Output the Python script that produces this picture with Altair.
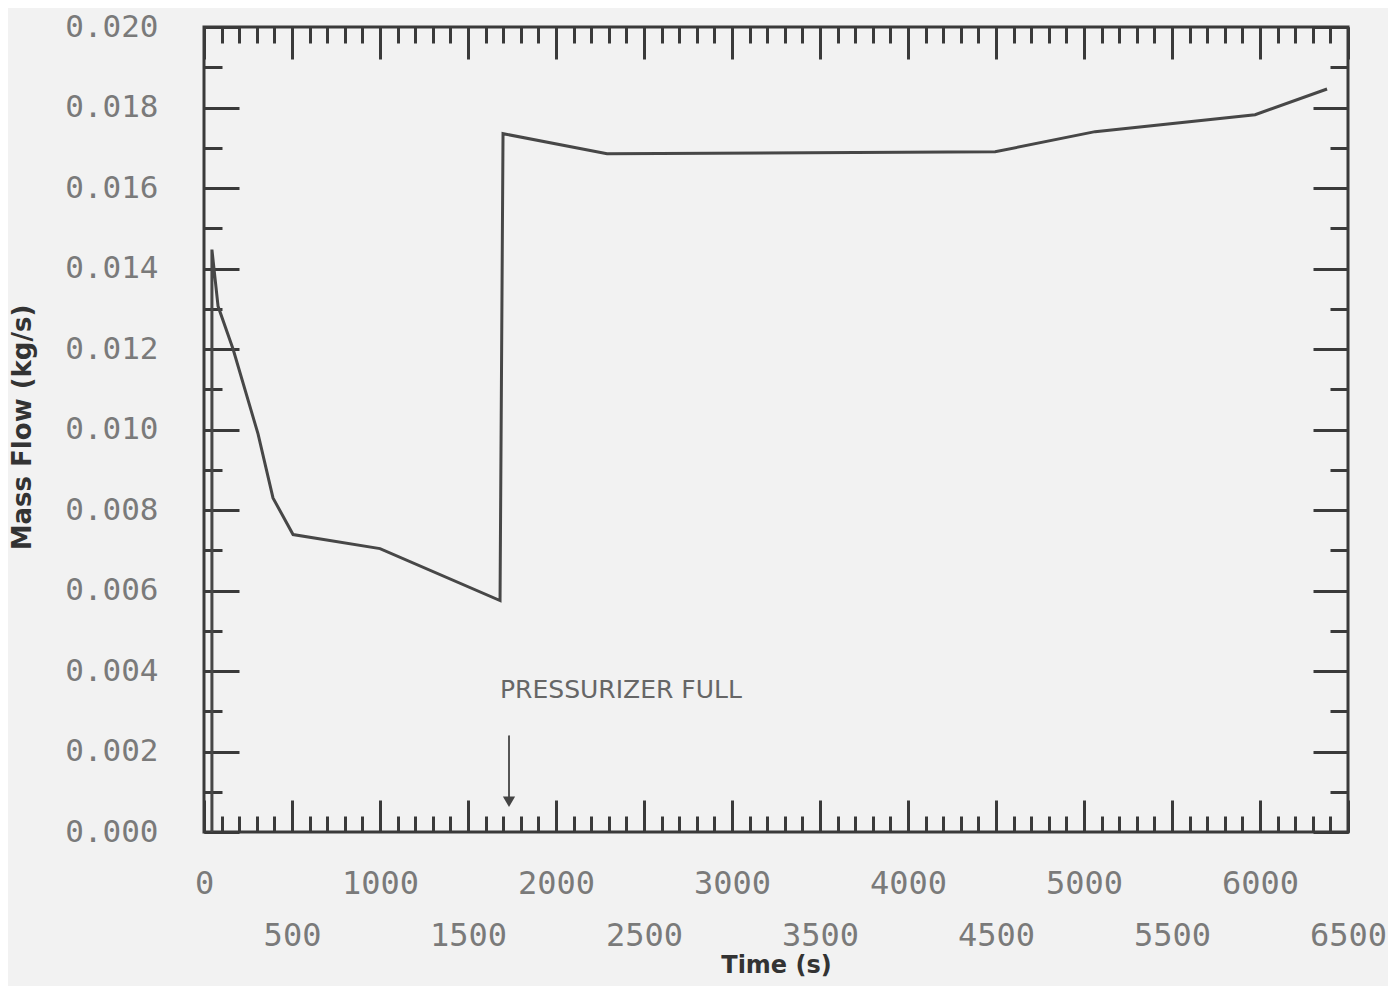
import altair as alt
import pandas as pd

# ---- data ----
time_s = [45, 45, 80, 165, 307, 392, 506, 1000, 1682, 1699, 2290, 4495, 5063, 5972, 6381]
mass_flow = [0.0, 0.01447, 0.01306, 0.01200, 0.00989, 0.00830, 0.00739, 0.00704,
             0.00575, 0.01735, 0.01685, 0.01690, 0.01740, 0.01782, 0.01846]

x_major = [0, 500, 1000, 1500, 2000, 2500, 3000, 3500, 4000, 4500, 5000, 5500, 6000, 6500]
x_minor = list(range(0, 6501, 100))
y_major = [0.000, 0.002, 0.004, 0.006, 0.008, 0.010, 0.012, 0.014, 0.016, 0.018, 0.020]
y_minor = [round(0.001 * i, 3) for i in range(21)]

annot_text = ["PRESSURIZER FULL"]
annot_text_t = [1682]
annot_text_v = [0.00352]
arrow_t = [1733]
arrow_top = [0.0024]
arrow_bot = [0.0008]
arrow_head_v = [0.00075]

W, H = 1144, 805
AX = "#3a3a3a"
LAB = "#7a7a7a"

df = pd.DataFrame({"t": time_s, "v": mass_flow, "i": list(range(len(time_s)))})
xs = alt.Scale(domain=[0, 6500], nice=False, zero=False)
ys = alt.Scale(domain=[0, 0.020], nice=False, zero=False)

base = alt.Chart(df)

main = base.mark_line(color="#474747", strokeWidth=3).encode(
    x=alt.X("t:Q", scale=xs, axis=alt.Axis(
        orient="bottom", values=x_major, format="d",
        labelExpr="datum.value % 1000 == 0 ? [datum.label] : [' ', datum.label]",
        labelFont="DejaVu Sans Mono", labelFontSize=32, labelColor=LAB,
        labelBaseline="top", labelLineHeight=52, labelPadding=36,
        labelFlush=False, labelOverlap=False,
        ticks=False, domain=False, grid=False,
        title="Time  (s)", titleFont="DejaVu Sans", titleFontSize=24,
        titleFontWeight="bold", titleColor="#333333",
        titleX=572, titleY=133, titleAlign="center", titleBaseline="middle")),
    y=alt.Y("v:Q", scale=ys, axis=alt.Axis(
        orient="left", values=y_major, format=".3f",
        labelFont="DejaVu Sans Mono", labelFontSize=31, labelColor=LAB,
        labelBaseline="middle", labelPadding=46, labelFlush=False, labelOverlap=False,
        ticks=False, domain=False, grid=False,
        title="Mass  Flow  (kg/s)", titleFont="DejaVu Sans", titleFontSize=26,
        titleFontWeight="bold", titleColor="#333333", titleAngle=270,
        titleX=-182, titleY=400, titleAlign="center", titleBaseline="middle")),
    order="i:Q",
)


def tick_layer(xorient, xvals, xlen, yorient, yvals, ylen):
    return base.mark_line(opacity=0).encode(
        x=alt.X("t:Q", scale=xs, axis=alt.Axis(
            orient=xorient, offset=-H, values=xvals, tickSize=xlen, tickWidth=3,
            tickColor=AX, labels=False, domain=False, grid=False, title=None)),
        y=alt.Y("v:Q", scale=ys, axis=alt.Axis(
            orient=yorient, offset=-W, values=yvals, tickSize=ylen, tickWidth=3,
            tickColor=AX, labels=False, domain=False, grid=False, title=None)),
        order="i:Q",
    )


# inward ticks: bottom & left sides
t_major_bl = tick_layer("top", x_major, 32, "right", y_major, 35)
t_minor_bl = tick_layer("top", x_minor, 16, "right", y_minor, 18)
# inward ticks: top & right sides
t_major_tr = tick_layer("bottom", x_major, 32, "left", y_major, 35)
t_minor_tr = tick_layer("bottom", x_minor, 16, "left", y_minor, 18)

adf = pd.DataFrame({"label": annot_text, "t": annot_text_t, "v": annot_text_v})
text = alt.Chart(adf).mark_text(
    align="left", baseline="middle", font="DejaVu Sans", fontSize=25, color="#666666"
).encode(
    x=alt.X("t:Q", scale=xs, axis=None),
    y=alt.Y("v:Q", scale=ys, axis=None),
    text="label:N",
)

rdf = pd.DataFrame({"t": arrow_t, "top": arrow_top, "bot": arrow_bot, "head": arrow_head_v})
arrow = alt.Chart(rdf).mark_rule(color="#555555", strokeWidth=2).encode(
    x=alt.X("t:Q", scale=xs, axis=None),
    y=alt.Y("top:Q", scale=ys, axis=None),
    y2="bot:Q",
)
head = alt.Chart(rdf).mark_point(shape="triangle-down", filled=True, size=150,
                                 color="#444444", opacity=1).encode(
    x=alt.X("t:Q", scale=xs, axis=None),
    y=alt.Y("head:Q", scale=ys, axis=None),
)

chart = alt.layer(
    main, t_major_bl, t_minor_bl, t_major_tr, t_minor_tr, arrow, head, text
).resolve_axis(
    x="independent", y="independent"
).properties(
    width=W, height=H,
    autosize=alt.AutoSizeParams(type="none"),
    padding={"left": 196, "top": 19, "right": 40, "bottom": 154},
    background="#f2f2f2",
).configure_view(
    stroke=AX, strokeWidth=3
)

chart.save("out.html", embed_options={"renderer": "svg", "actions": False})
